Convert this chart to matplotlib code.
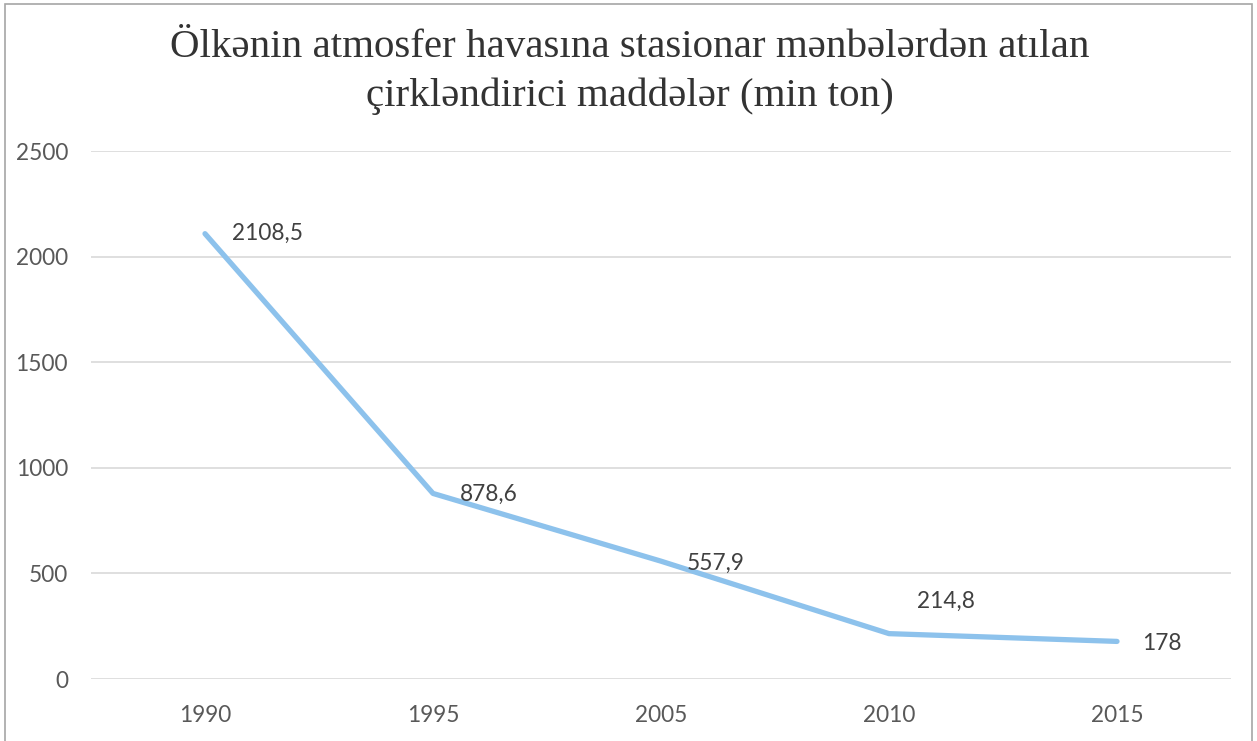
import matplotlib
matplotlib.use("Agg")
import matplotlib.pyplot as plt
from matplotlib.patches import Rectangle

years = ["1990", "1995", "2005", "2010", "2015"]
values = [2108.5, 878.6, 557.9, 214.8, 178]
labels = ["2108,5", "878,6", "557,9", "214,8", "178"]
yticks = [0, 500, 1000, 1500, 2000, 2500]

# label offsets in pixels (dx right, dy down) relative to each point
offsets = [(27, 0), (27, 1), (26, 2), (28, -32), (25, 2)]

W, H = 1257, 741
fig = plt.figure(figsize=(W/100, H/100), dpi=100)
L, R, T, B = 91, 1231, 151, 679
ax = fig.add_axes([L/W, 1-B/H, (R-L)/W, (B-T)/H])

x = list(range(len(years)))
ax.plot(x, values, color="#8DC2EC", lw=3.8, solid_joinstyle="round", solid_capstyle="round")

for xi, v, lab, (dx, dy) in zip(x, values, labels, offsets):
    ax.annotate(lab, (xi, v), xytext=(dx*0.72, -dy*0.72), textcoords="offset points",
                ha="left", va="center", fontsize=16.3, color="#404040", family="Lato")

ax.set_xlim(-0.5, len(years)-0.5)
ax.set_ylim(0, 2500)
ax.set_yticks(yticks)
ax.set_yticklabels([str(t) for t in yticks])
ax.set_xticks(x)
ax.set_xticklabels(years)
for lab in ax.get_xticklabels() + ax.get_yticklabels():
    lab.set_family("Lato")
    lab.set_fontsize(16.3)
    lab.set_color("#595959")
ax.tick_params(length=0)
ax.tick_params(axis="x", pad=19)
ax.tick_params(axis="y", pad=16.5)
ax.grid(axis="y", color="#D9D9D9", lw=1.2)
ax.set_axisbelow(True)
for s in ax.spines.values():
    s.set_visible(False)

fig.text(630/W, 1-72/H, "Ölkənin atmosfer havasına stasionar mənbələrdən atılan\nçirkləndirici maddələr (min ton)",
         ha="center", va="center", fontsize=29.5, family="Liberation Serif", color="#333333", linespacing=1.42)

fig.patches.append(Rectangle((5/W, -0.01), (1252-5)/W, 1.01-4/H, transform=fig.transFigure,
                             fill=False, edgecolor="#A6A6A6", lw=1.2))

fig.savefig("out.png", dpi=100, facecolor="white")
